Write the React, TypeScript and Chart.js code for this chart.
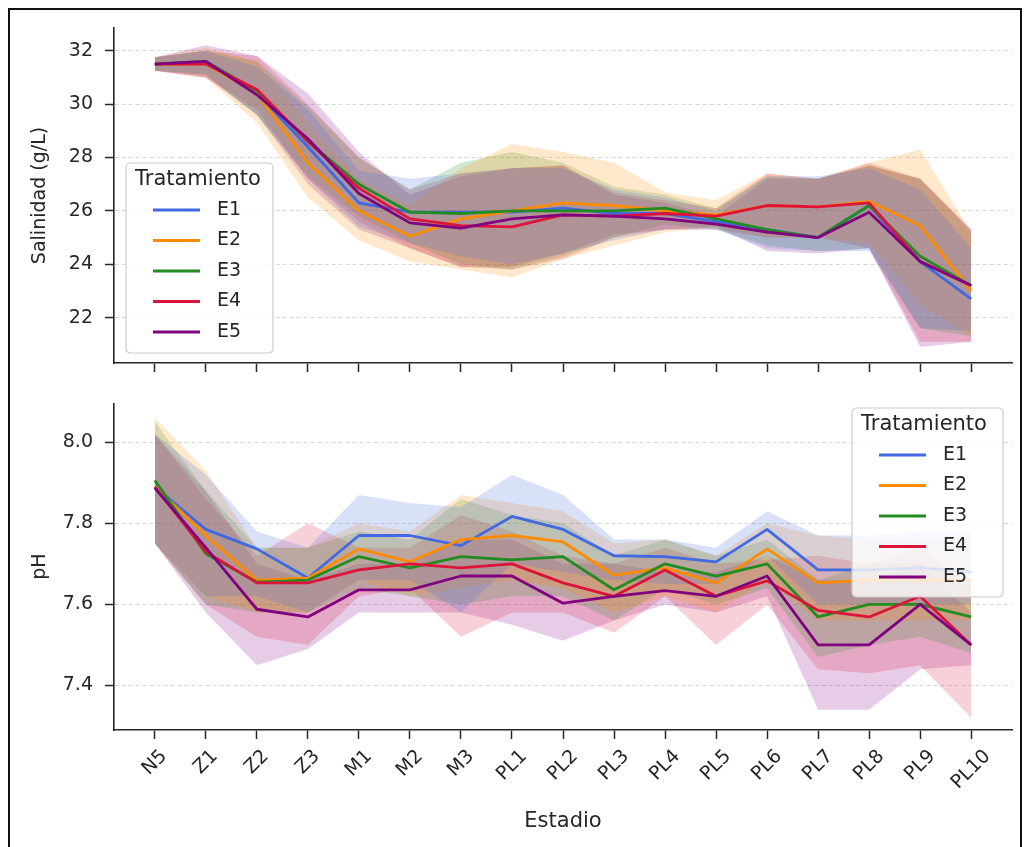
import React, { useEffect, useRef } from 'react';
import { Chart, registerables } from 'chart.js';

Chart.register(...registerables);

const stages = ['N5', 'Z1', 'Z2', 'Z3', 'M1', 'M2', 'M3', 'PL1', 'PL2', 'PL3', 'PL4', 'PL5', 'PL6', 'PL7', 'PL8', 'PL9', 'PL10'];
const treatments = ['E1', 'E2', 'E3', 'E4', 'E5'];
const colors = ['#4169E1', '#FF8C00', '#228B22', '#DC143C', '#800080'];

// Salinidad (g/L)
const salE1 = [31.5, 31.6, 30.4, 28.4, 26.3, 25.95, 25.95, 25.95, 26.1, 25.9, 25.9, 25.6, 25.3, 25.0, 26.2, 24.1, 22.7];
const salE1Lo = [31.25, 31.1, 29.6, 27.2, 25.4, 24.8, 24.3, 24.0, 24.4, 24.9, 25.3, 25.3, 24.6, 24.5, 24.5, 21.6, 21.5];
const salE1Hi = [31.75, 32.0, 31.4, 29.8, 27.5, 27.2, 27.4, 27.6, 27.6, 26.8, 26.5, 26.0, 27.3, 27.3, 27.6, 26.8, 24.6];

const salE2 = [31.5, 31.5, 30.4, 27.8, 26.0, 25.05, 25.7, 26.0, 26.3, 26.2, 26.0, 25.85, 26.2, 26.15, 26.35, 25.45, 23.0];
const salE2Lo = [31.25, 31.0, 29.3, 26.5, 24.9, 24.1, 23.8, 23.5, 24.2, 24.7, 25.2, 25.4, 25.0, 25.0, 24.8, 22.5, 21.3];
const salE2Hi = [31.75, 32.1, 31.6, 29.3, 27.2, 26.2, 27.6, 28.5, 28.2, 27.8, 26.7, 26.4, 27.4, 27.2, 27.8, 28.3, 25.2];

const salE3 = [31.5, 31.6, 30.5, 28.6, 27.0, 25.95, 25.9, 26.0, 26.0, 26.0, 26.1, 25.7, 25.3, 25.0, 26.2, 24.3, 23.2];
const salE3Lo = [31.25, 31.1, 29.6, 27.3, 25.8, 24.8, 24.0, 23.8, 24.3, 25.0, 25.5, 25.3, 24.7, 24.5, 24.6, 21.6, 21.3];
const salE3Hi = [31.75, 32.0, 31.6, 29.9, 28.0, 26.8, 27.8, 28.2, 27.8, 26.9, 26.6, 26.1, 27.3, 27.2, 27.7, 27.2, 25.2];

const salE4 = [31.5, 31.5, 30.55, 28.6, 26.85, 25.7, 25.45, 25.4, 25.85, 25.8, 25.9, 25.8, 26.2, 26.15, 26.3, 24.1, 23.2];
const salE4Lo = [31.25, 31.0, 29.8, 27.2, 25.6, 24.6, 23.9, 23.8, 24.2, 25.0, 25.3, 25.3, 25.0, 25.0, 24.6, 21.1, 21.1];
const salE4Hi = [31.75, 32.0, 31.8, 30.0, 28.0, 26.8, 27.4, 27.6, 27.7, 26.7, 26.4, 26.1, 27.4, 27.2, 27.8, 27.2, 25.3];

const salE5 = [31.5, 31.6, 30.35, 28.7, 26.65, 25.55, 25.35, 25.7, 25.85, 25.8, 25.7, 25.5, 25.2, 25.0, 25.95, 24.1, 23.2];
const salE5Lo = [31.25, 31.0, 29.6, 27.0, 25.3, 24.6, 23.9, 23.9, 24.4, 25.1, 25.3, 25.4, 24.5, 24.4, 24.6, 20.9, 21.1];
const salE5Hi = [31.75, 32.2, 31.8, 30.4, 28.2, 26.6, 27.3, 27.6, 27.7, 26.6, 26.3, 25.8, 27.2, 27.2, 27.7, 27.2, 25.3];

// pH
const phE1 = [7.89, 7.785, 7.737, 7.665, 7.77, 7.77, 7.745, 7.817, 7.785, 7.72, 7.718, 7.705, 7.785, 7.685, 7.685, 7.69, 7.68];
const phE1Lo = [7.75, 7.62, 7.62, 7.58, 7.66, 7.66, 7.58, 7.70, 7.68, 7.66, 7.65, 7.65, 7.72, 7.60, 7.60, 7.60, 7.60];
const phE1Hi = [8.02, 7.92, 7.78, 7.74, 7.87, 7.85, 7.84, 7.92, 7.87, 7.76, 7.76, 7.74, 7.83, 7.77, 7.77, 7.78, 7.78];

const phE2 = [7.89, 7.77, 7.66, 7.665, 7.737, 7.705, 7.76, 7.77, 7.754, 7.672, 7.69, 7.653, 7.737, 7.653, 7.66, 7.66, 7.66];
const phE2Lo = [7.75, 7.62, 7.58, 7.58, 7.66, 7.62, 7.64, 7.66, 7.64, 7.58, 7.62, 7.58, 7.66, 7.56, 7.56, 7.56, 7.56];
const phE2Hi = [8.06, 7.93, 7.74, 7.74, 7.80, 7.78, 7.87, 7.85, 7.83, 7.75, 7.76, 7.72, 7.80, 7.77, 7.76, 7.76, 7.76];

const phE3 = [7.906, 7.725, 7.655, 7.66, 7.718, 7.69, 7.718, 7.71, 7.718, 7.636, 7.70, 7.67, 7.70, 7.569, 7.60, 7.60, 7.569];
const phE3Lo = [7.75, 7.60, 7.58, 7.58, 7.64, 7.62, 7.60, 7.62, 7.62, 7.56, 7.64, 7.60, 7.64, 7.47, 7.50, 7.52, 7.48];
const phE3Hi = [8.05, 7.88, 7.74, 7.74, 7.78, 7.76, 7.86, 7.82, 7.80, 7.72, 7.76, 7.72, 7.76, 7.66, 7.70, 7.70, 7.66];

const phE4 = [7.89, 7.73, 7.653, 7.653, 7.685, 7.70, 7.69, 7.70, 7.653, 7.62, 7.685, 7.62, 7.658, 7.585, 7.569, 7.62, 7.50];
const phE4Lo = [7.75, 7.60, 7.52, 7.50, 7.62, 7.64, 7.52, 7.58, 7.58, 7.53, 7.62, 7.50, 7.60, 7.44, 7.43, 7.45, 7.32];
const phE4Hi = [8.02, 7.86, 7.72, 7.80, 7.74, 7.74, 7.82, 7.78, 7.72, 7.70, 7.74, 7.70, 7.71, 7.72, 7.70, 7.74, 7.65];

const phE5 = [7.887, 7.74, 7.588, 7.569, 7.636, 7.636, 7.67, 7.67, 7.603, 7.62, 7.634, 7.62, 7.67, 7.50, 7.50, 7.60, 7.50];
const phE5Lo = [7.75, 7.58, 7.45, 7.49, 7.58, 7.58, 7.58, 7.55, 7.51, 7.56, 7.60, 7.58, 7.62, 7.34, 7.34, 7.44, 7.45];
const phE5Hi = [8.02, 7.88, 7.70, 7.66, 7.70, 7.70, 7.76, 7.76, 7.70, 7.70, 7.68, 7.68, 7.72, 7.66, 7.66, 7.70, 7.58];

const salTicks = [22, 24, 26, 28, 30, 32];
const phTicks = [7.4, 7.6, 7.8, 8.0];

const FONT = "'DejaVu Sans', sans-serif";
const INK = '#262626';
const TICK_SIZE = 19;
const YTITLE_SIZE = 19;
const XTITLE_SIZE = 21;
const LEGEND_TITLE_SIZE = 21;

function rgba(hex: string, a: number) {
  const n = parseInt(hex.slice(1), 16);
  return `rgba(${(n >> 16) & 255},${(n >> 8) & 255},${n & 255},${a})`;
}

function pts(arr: number[]) {
  return arr.map((v, i) => ({ x: i, y: v }));
}

function buildDatasets(means: number[][], los: number[][], his: number[][]) {
  const ds: any[] = [];
  means.forEach((_, k) => {
    ds.push({
      label: 'lo' + k, data: pts(los[k]), borderWidth: 0, borderColor: 'transparent',
      pointRadius: 0, fill: false, order: 20,
    });
    ds.push({
      label: 'hi' + k, data: pts(his[k]), borderWidth: 0, borderColor: 'transparent',
      pointRadius: 0, fill: '-1', backgroundColor: rgba(colors[k], 0.2), order: 20,
    });
  });
  means.forEach((m, k) => {
    ds.push({
      label: treatments[k], data: pts(m), borderColor: colors[k], borderWidth: 2.8,
      pointRadius: 0, fill: false, order: 4 - k, borderJoinStyle: 'round', tension: 0,
    });
  });
  return ds;
}

const legendPlugin = {
  id: 'customLegend',
  afterDatasetsDraw(chart: any) {
    const o = chart.options.plugins.customLegend;
    if (!o) return;
    const ctx = chart.ctx;
    ctx.save();
    const { x, y, w, h } = o;
    const r = 5;
    ctx.beginPath();
    ctx.moveTo(x + r, y);
    ctx.lineTo(x + w - r, y);
    ctx.quadraticCurveTo(x + w, y, x + w, y + r);
    ctx.lineTo(x + w, y + h - r);
    ctx.quadraticCurveTo(x + w, y + h, x + w - r, y + h);
    ctx.lineTo(x + r, y + h);
    ctx.quadraticCurveTo(x, y + h, x, y + h - r);
    ctx.lineTo(x, y + r);
    ctx.quadraticCurveTo(x, y, x + r, y);
    ctx.closePath();
    ctx.fillStyle = 'rgba(255,255,255,0.8)';
    ctx.fill();
    ctx.strokeStyle = '#cccccc';
    ctx.lineWidth = 1.2;
    ctx.stroke();
    ctx.fillStyle = INK;
    ctx.textBaseline = 'middle';
    ctx.textAlign = 'left';
    ctx.font = `${LEGEND_TITLE_SIZE}px ${FONT}`;
    ctx.fillText('Tratamiento', x + 9, y + 17);
    ctx.font = `${TICK_SIZE}px ${FONT}`;
    treatments.forEach((t, k) => {
      const cy = y + 47 + k * 30.5;
      ctx.strokeStyle = colors[k];
      ctx.lineWidth = 2.8;
      ctx.beginPath();
      ctx.moveTo(x + 27, cy);
      ctx.lineTo(x + 74, cy);
      ctx.stroke();
      ctx.fillStyle = INK;
      ctx.fillText(t, x + 91, cy);
    });
    ctx.restore();
  },
};

const xLabelPlugin = {
  id: 'rotLabels',
  afterDraw(chart: any) {
    const o = chart.options.plugins.rotLabels;
    if (!o || !o.show) return;
    const xs = chart.scales.x;
    const ctx = chart.ctx;
    ctx.save();
    ctx.font = `${TICK_SIZE}px ${FONT}`;
    ctx.fillStyle = INK;
    ctx.textAlign = 'center';
    ctx.textBaseline = 'middle';
    stages.forEach((s, i) => {
      const x = xs.getPixelForValue(i);
      const w = ctx.measureText(s).width;
      const h = TICK_SIZE * 0.95;
      const bb = (w + h) * Math.SQRT1_2;
      const cy = xs.top + 17 + bb / 2;
      ctx.save();
      ctx.translate(x, cy);
      ctx.rotate(-Math.PI / 4);
      ctx.fillText(s, 0, 0);
      ctx.restore();
    });
    ctx.restore();
  },
};

function makeOptions(cfg: any) {
  return {
    responsive: false,
    animation: false,
    events: [],
    layout: { padding: { top: cfg.padTop, right: 12, left: 0, bottom: 0 } },
    plugins: {
      legend: { display: false },
      tooltip: { enabled: false },
      filler: { drawTime: 'beforeDatasetsDraw' },
      customLegend: cfg.legend,
      rotLabels: { show: cfg.showLabels },
    },
    scales: {
      x: {
        type: 'linear',
        min: -0.8,
        max: 16.8,
        afterBuildTicks: (s: any) => { s.ticks = stages.map((_, i) => ({ value: i })); },
        afterFit: (s: any) => { s.height = cfg.xHeight; },
        ticks: { autoSkip: false, callback: () => '', maxRotation: 0, padding: 0 },
        grid: { drawOnChartArea: false, drawTicks: true, tickLength: 9, tickColor: INK, tickWidth: 1.5 },
        border: { display: true, color: INK, width: 1.6 },
        title: cfg.xTitle
          ? { display: true, text: cfg.xTitle, color: INK, font: { family: FONT, size: XTITLE_SIZE }, padding: { top: 0, bottom: 13 } }
          : { display: false },
      },
      y: {
        min: cfg.yMin,
        max: cfg.yMax,
        afterBuildTicks: (s: any) => { s.ticks = cfg.yTicks.map((v: number) => ({ value: v })); },
        afterFit: (s: any) => { s.width = 114; },
        ticks: {
          color: INK, font: { family: FONT, size: TICK_SIZE }, padding: 12,
          callback: (v: number) => cfg.fmt(v),
        },
        grid: { color: '#d6d6d6', lineWidth: 1, drawTicks: true, tickLength: 9, tickColor: INK, tickWidth: 1.5 },
        border: { display: true, color: INK, width: 1.6, dash: [4, 3] },
        title: { display: true, text: cfg.yTitle, color: INK, font: { family: FONT, size: YTITLE_SIZE }, padding: { top: 29, bottom: 0 } },
      },
    },
  };
}

function ChartCanvas({ top, height, build }: { top: number; height: number; build: (c: HTMLCanvasElement) => Chart }) {
  const ref = useRef<HTMLCanvasElement>(null);
  useEffect(() => {
    if (!ref.current) return;
    const chart = build(ref.current);
    return () => chart.destroy();
  }, []);
  return (
    <canvas
      ref={ref}
      width={1024}
      height={height}
      style={{ position: 'absolute', left: 0, top, width: 1024, height }}
    />
  );
}

export default function App() {
  const buildTop = (c: HTMLCanvasElement) =>
    new Chart(c, {
      type: 'line',
      data: {
        datasets: buildDatasets(
          [salE1, salE2, salE3, salE4, salE5],
          [salE1Lo, salE2Lo, salE3Lo, salE4Lo, salE5Lo],
          [salE1Hi, salE2Hi, salE3Hi, salE4Hi, salE5Hi]
        ),
      },
      options: makeOptions({
        padTop: 28, xHeight: 390 - 363, yMin: 20.3, yMax: 32.85, yTicks: salTicks,
        fmt: (v: number) => String(v), yTitle: 'Salinidad (g/L)', xTitle: null, showLabels: false,
        legend: { x: 126, y: 163, w: 147, h: 190 },
      }) as any,
      plugins: [legendPlugin, xLabelPlugin],
    });

  const buildBottom = (c: HTMLCanvasElement) =>
    new Chart(c, {
      type: 'line',
      data: {
        datasets: buildDatasets(
          [phE1, phE2, phE3, phE4, phE5],
          [phE1Lo, phE2Lo, phE3Lo, phE4Lo, phE5Lo],
          [phE1Hi, phE2Hi, phE3Hi, phE4Hi, phE5Hi]
        ),
      },
      options: makeOptions({
        padTop: 16, xHeight: 847 - 380 - (730 - 380), yMin: 7.29, yMax: 8.096, yTicks: phTicks,
        fmt: (v: number) => v.toFixed(1), yTitle: 'pH', xTitle: 'Estadio', showLabels: true,
        legend: { x: 852, y: 28, w: 151, h: 189 },
      }) as any,
      plugins: [legendPlugin, xLabelPlugin],
    });

  return (
    <div style={{ position: 'absolute', left: 0, top: 0, width: 1024, height: 847, overflow: 'hidden', background: '#fff' }}>
      <div style={{ position: 'absolute', left: 8, top: 8, width: 1010, height: 845, border: '2px solid #111' }} />
      <ChartCanvas top={0} height={390} build={buildTop} />
      <ChartCanvas top={380} height={467} build={buildBottom} />
    </div>
  );
}
